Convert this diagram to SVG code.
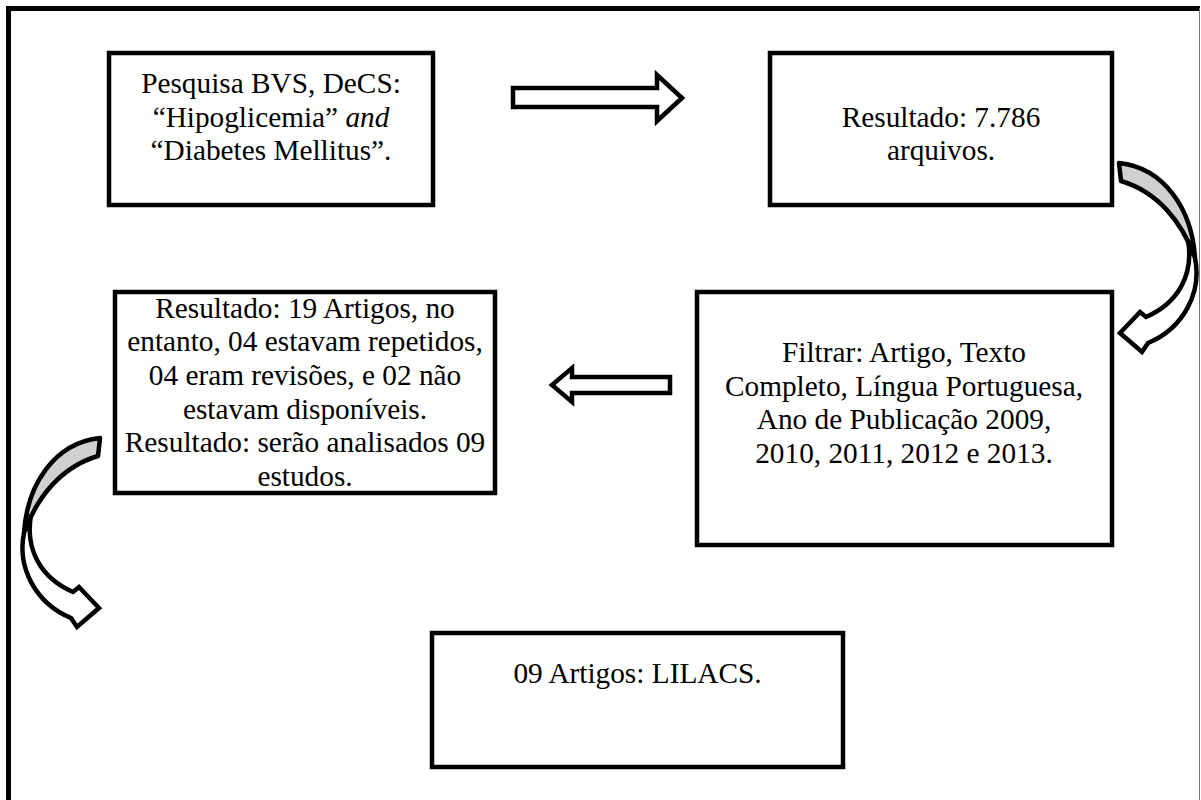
<svg xmlns="http://www.w3.org/2000/svg" width="1201" height="800" viewBox="0 0 1201 800">
<style>
.box{fill:#fff;stroke:#000;stroke-width:4.5}
.t{font-family:"Liberation Serif","Times New Roman",serif;font-size:29.3px;fill:#000;text-anchor:middle}
.arr{fill:#fff;stroke:#000;stroke-width:4.5;stroke-linejoin:miter}
.back{fill:#d0d0d0;stroke:#000;stroke-width:4.5;stroke-linejoin:round}
</style>
<rect width="1201" height="800" fill="#fff"/>
<g id="frame">
<path d="M8.5,800 V8.5 H1200" fill="none" stroke="#000" stroke-width="5"/>
<path d="M1199.5,8 V800" fill="none" stroke="#777" stroke-width="1"/>
</g>
<g id="connectors">
<path class="arr" d="M513,88 H657 V75 L682,98 L657,121 V107 H513 Z"/>
<path class="arr" d="M670,377 H572 V368 L552,385 L572,402 V393 H670 Z"/>
<path class="back" d="M1119,163 L1121,181 C1158,192 1182,222 1195,258 C1192,210 1165,168 1119,163 Z"/>
<path class="arr" d="M1188,240 C1194,275 1178,303 1146,317 L1140,312 L1120,333 L1142,352 L1148,343 C1184,328 1202,292 1195,258 Z"/>
<path class="back" d="M100,438 L98,456 C61,467 37,497 24,533 C27,485 54,443 100,438 Z"/>
<path class="arr" d="M31,515 C25,550 41,578 73,592 L79,587 L99,608 L77,627 L71,618 C35,603 17,567 24,533 Z"/>
</g>
<g id="n1">
<rect class="box" x="109" y="53" width="324" height="152"/>
<text class="t" x="271" y="93">Pesquisa BVS, DeCS:</text>
<text class="t" x="271" y="127">“Hipoglicemia” <tspan font-style="italic">and</tspan></text>
<text class="t" x="271" y="160">“Diabetes Mellitus”.</text>
</g>
<g id="n2">
<rect class="box" x="770" y="53" width="342" height="152"/>
<text class="t" x="941" y="127">Resultado: 7.786</text>
<text class="t" x="941" y="160">arquivos.</text>
</g>
<g id="n3">
<rect class="box" x="697" y="292" width="415" height="253"/>
<text class="t" x="904" y="362">Filtrar: Artigo, Texto</text>
<text class="t" x="904" y="396">Completo, Língua Portuguesa,</text>
<text class="t" x="904" y="429">Ano de Publicação 2009,</text>
<text class="t" x="904" y="463">2010, 2011, 2012 e 2013.</text>
</g>
<g id="n4">
<rect class="box" x="115" y="292" width="380" height="201"/>
<text class="t" x="305" y="318">Resultado: 19 Artigos, no</text>
<text class="t" x="305" y="351">entanto, 04 estavam repetidos,</text>
<text class="t" x="305" y="385">04 eram revisões, e 02 não</text>
<text class="t" x="305" y="419">estavam disponíveis.</text>
<text class="t" x="305" y="452">Resultado: serão analisados 09</text>
<text class="t" x="305" y="486">estudos.</text>
</g>
<g id="n5">
<rect class="box" x="432" y="633" width="411" height="134"/>
<text class="t" x="637.5" y="683">09 Artigos: LILACS.</text>
</g>
</svg>
